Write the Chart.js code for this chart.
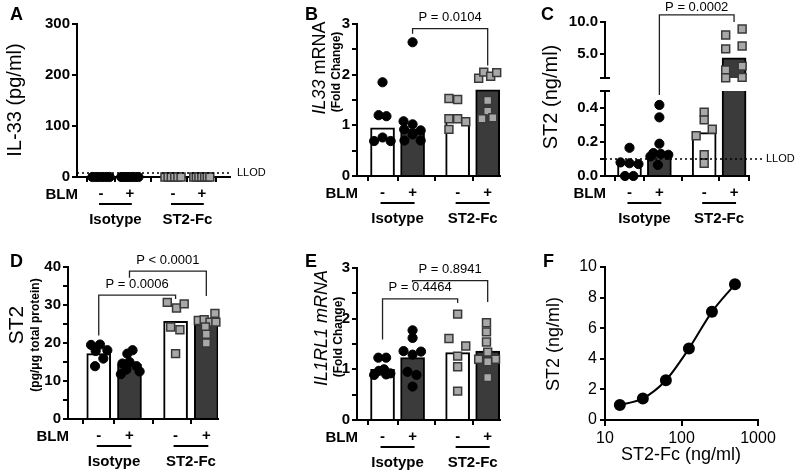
<!DOCTYPE html>
<html>
<head>
<meta charset="utf-8">
<script src="https://cdn.jsdelivr.net/npm/chart.js@4.4.1/dist/chart.umd.min.js"></script>
<style>
  body { margin: 0; background: #fff; width: 796px; height: 474px; position: relative; overflow: hidden; }
  canvas { position: absolute; }
</style>
</head>
<body>
<canvas id="cA" width="270" height="237" style="left:0;top:0"></canvas>
<canvas id="cB" width="264" height="237" style="left:262px;top:0"></canvas>
<canvas id="cCup" width="270" height="237" style="left:526px;top:0"></canvas>
<canvas id="cClo" width="270" height="237" style="left:526px;top:0"></canvas>
<canvas id="cD" width="262" height="237" style="left:0;top:237px"></canvas>
<canvas id="cE" width="264" height="237" style="left:262px;top:237px"></canvas>
<canvas id="cF" width="270" height="237" style="left:526px;top:237px"></canvas>
<script>
// groups on the x axis: Isotype -/+ , ST2-Fc -/+
const groupPos = [1, 2, 3.5, 4.5];
const blmLabels = ['-', '+', '-', '+'];
const treatLabels = ['Isotype', 'ST2-Fc'];

// A - IL-33 protein, everything under detection
const aBars = [0, 0, 0, 0];
const aIsoMinus = [0, 0, 0, 0, 0, 0];
const aIsoMinusDx = [-0.3, -0.18, -0.06, 0.06, 0.18, 0.3];
const aIsoPlus = [0, 0, 0, 0, 0, 0, 0];
const aIsoPlusDx = [-0.3, -0.2, -0.1, 0, 0.1, 0.2, 0.3];
const aSt2Minus = [0, 0, 0, 0, 0, 0];
const aSt2MinusDx = [-0.28, -0.17, -0.06, 0.06, 0.17, 0.28];
const aSt2Plus = [0, 0, 0, 0, 0, 0, 0];
const aSt2PlusDx = [-0.28, -0.19, -0.1, 0, 0.1, 0.19, 0.28];
const aLLOD = 8;
const aTicks = [0, 100, 200, 300];
const aTickLabels = ['0', '100', '200', '300'];

// B - IL33 mRNA
const bBars = [0.95, 0.93, 1.13, 1.70];
const bIsoMinus = [1.85, 1.2, 1.18, 0.69, 0.76, 0.69];
const bIsoMinusDx = [0, -0.13, 0.13, -0.28, 0, 0.27];
const bIsoPlus = [2.64, 1.08, 1.02, 0.92, 0.9, 0.82, 0.7, 0.7];
const bIsoPlusDx = [0, -0.3, 0, -0.28, 0.27, 0, -0.27, 0.27];
const bSt2Minus = [1.53, 1.51, 1.13, 1.13, 1.07, 0.92];
const bSt2MinusDx = [-0.29, 0, -0.29, 0, 0.27, -0.29];
const bSt2Plus = [1.93, 2.05, 1.97, 2.04, 1.49, 1.28, 1.13, 1.15];
const bSt2PlusDx = [-0.3, -0.13, 0.1, 0.3, 0, 0, -0.19, 0.17];
const bTicks = [0, 0.5, 1, 1.5, 2, 2.5, 3];
const bTickLabels = ['0', '', '1', '', '2', '', '3'];

// C - soluble ST2 (broken axis)
const cBars = [0.08, 0.127, 0.255, 4.42];
const cIsoMinus = [0.166, 0.08, 0.075, 0.07, 0.0, 0.0];
const cIsoMinusDx = [0, -0.3, 0, 0.3, -0.15, 0.13];
const cIsoPlus = [0.418, 0.345, 0.19, 0.135, 0.13, 0.125, 0.115, 0.065];
const cIsoPlusDx = [0, 0, 0, -0.2, 0.05, 0.3, -0.3, -0.05];
const cSt2Minus = [0.375, 0.33, 0.275, 0.237, 0.125, 0.075];
const cSt2MinusDx = [0, 0, 0.27, -0.27, 0, 0];
const cSt2Plus = [7.97, 8.9, 5.8, 6.25, 2.5, 3.1, 1.3, 1.35];
const cSt2PlusDx = [-0.28, 0.27, -0.28, 0.27, -0.28, 0.27, -0.28, 0.27];
const cLLOD = 0.1;
const cUpTicks = [1.25, 5, 10];
const cUpTickLabels = ['', '5.0', '10.0'];
const cLoTicks = [0, 0.1, 0.2, 0.3, 0.4, 0.5];
const cLoTickLabels = ['0.0', '', '0.2', '', '0.4', ''];

// D - ST2 per total protein
const dBars = [17.2, 14.4, 25.7, 25.1];
const dIsoMinus = [19.5, 19.6, 18.1, 17.9, 15.9, 13.9];
const dIsoMinusDx = [-0.25, 0.04, 0.28, -0.1, 0.15, -0.12];
const dIsoPlus = [18.1, 17.2, 15.0, 14.6, 13.9, 13.0, 12.5, 11.8];
const dIsoPlusDx = [0.1, -0.07, 0, -0.23, 0.23, -0.1, 0.33, -0.28];
const dSt2Minus = [30.7, 29.2, 30.3, 24.2, 23.5, 17.2];
const dSt2MinusDx = [-0.27, 0.03, 0.28, -0.16, 0.14, 0];
const dSt2Plus = [27.8, 25.9, 26.1, 25.5, 25.5, 24.2, 22.3, 20.0];
const dSt2PlusDx = [0.28, -0.26, -0.07, 0.12, 0.31, -0.03, 0, 0];
const dTicks = [0, 5, 10, 15, 20, 25, 30, 35, 40];
const dTickLabels = ['0', '', '10', '', '20', '', '30', '', '40'];

// E - IL1RL1 mRNA
const eBars = [1.0, 1.23, 1.33, 1.36];
const eIsoMinus = [1.23, 1.23, 1.0, 0.97, 0.92, 0.9, 0.89];
const eIsoMinusDx = [-0.14, 0.12, 0.05, -0.12, 0.26, 0.12, -0.28];
const eIsoPlus = [1.77, 1.62, 1.36, 1.35, 1.29, 0.95, 0.89, 0.66];
const eIsoPlusDx = [0, 0, -0.3, 0.28, 0, -0.17, 0.13, 0];
const eSt2Minus = [2.09, 1.61, 1.46, 1.26, 1.05, 0.57];
const eSt2MinusDx = [0, -0.29, 0.27, 0, 0, 0];
const eSt2Plus = [1.92, 1.74, 1.54, 1.34, 1.2, 1.2, 1.15, 0.84];
const eSt2PlusDx = [-0.04, -0.04, -0.04, 0, -0.3, 0.26, 0, 0];
const eTicks = bTicks;
const eTickLabels = bTickLabels;

// F - ST2 recovered vs ST2-Fc spiked
const fDose = [15.625, 31.25, 62.5, 125, 250, 500];
const fSt2 = [0.98, 1.41, 2.6, 4.67, 7.07, 8.87];
const fErr = [0, 0, 0, 0, 0.25, 0];
const fXTicks = [10, 100, 1000];
const fYTicks = [0, 2, 4, 6, 8, 10];

const FAM = '"Liberation Sans", Arial, sans-serif';
const DARK = '#3b3b3b';
const GREY = '#a8a8a8';
const tickFont = { family: FAM, size: 15, weight: 'bold' };
Chart.defaults.font.family = FAM;
Chart.defaults.color = '#000';

function barSet(vals) {
  return {
    type: 'bar', order: 2,
    data: vals.map((v, i) => ({ x: groupPos[i], y: v })),
    backgroundColor: ['#fff', DARK, '#fff', DARK],
    borderColor: '#000', borderWidth: 2, borderSkipped: 'start',
    barThickness: 24, clip: 0
  };
}

function dots(vals, dx, g, clip) {
  const sq = g >= 2;
  return {
    type: 'scatter', order: 1,
    data: vals.map((v, k) => ({ x: groupPos[g] + dx[k], y: v })),
    pointStyle: sq ? 'rect' : 'circle',
    pointRadius: sq ? 5.6 : 4.6,
    pointBackgroundColor: sq ? GREY : '#000',
    pointBorderColor: sq ? '#383838' : '#000',
    pointBorderWidth: sq ? 1.5 : 1,
    clip: clip === undefined ? false : clip
  };
}

function yScale(o) {
  return {
    type: 'linear', min: o.yMin, max: o.yMax,
    afterBuildTicks: s => { s.ticks = o.yTicks.map(v => ({ value: v })); },
    ticks: { callback: (v, i) => o.yLabels[i], font: o.yFont || tickFont, color: '#000', padding: 2, autoSkip: false },
    grid: { drawOnChartArea: false, tickLength: 5, color: '#000', lineWidth: 2 },
    border: { color: '#000', width: 2 },
    afterFit: s => { s.width = o.area.l; }
  };
}

function xScale(o) {
  return {
    type: 'linear', min: o.xMin, max: o.xMax, offset: false,
    display: o.hideX ? false : true,
    afterBuildTicks: s => { s.ticks = groupPos.map(v => ({ value: v })); },
    ticks: { callback: (v, i) => blmLabels[i], font: tickFont, color: '#000', padding: 3, autoSkip: false, maxRotation: 0 },
    grid: { drawOnChartArea: false, tickLength: 5, color: '#000', lineWidth: 2 },
    border: { color: '#000', width: 2 },
    afterFit: s => { s.height = o.H - o.area.b; }
  };
}

function panel(id, o) {
  return new Chart(document.getElementById(id), {
    type: 'bar',
    data: { datasets: o.sets },
    options: {
      responsive: false, animation: false, devicePixelRatio: 1,
      layout: { padding: { left: 0, top: o.area.t, right: o.W - o.area.r, bottom: 0 } },
      plugins: { legend: { display: false }, tooltip: { enabled: false } },
      scales: { x: xScale(o), y: yScale(o) }
    },
    plugins: [{ id: 'decor', afterDraw: c => { if (o.draw) o.draw(c, c.ctx); } }]
  });
}

// ---- drawing helpers ----
function txt(ctx, s, x, y, font, align) {
  ctx.save();
  ctx.font = font; ctx.fillStyle = '#000';
  ctx.textAlign = align || 'center'; ctx.textBaseline = 'middle';
  ctx.fillText(s, x, y);
  ctx.restore();
}

function vtext(ctx, parts, cx, cy) {
  ctx.save();
  ctx.translate(cx, cy); ctx.rotate(-Math.PI / 2);
  ctx.fillStyle = '#000'; ctx.textBaseline = 'middle'; ctx.textAlign = 'left';
  let w = 0;
  parts.forEach(p => { ctx.font = p.f; w += ctx.measureText(p.t).width; });
  let xx = -w / 2;
  parts.forEach(p => { ctx.font = p.f; ctx.fillText(p.t, xx, 0); xx += ctx.measureText(p.t).width; });
  ctx.restore();
}

function groupsRow(c, ctx) {
  const a = c.chartArea, x = c.scales.x, yb = a.bottom;
  ctx.save();
  txt(ctx, 'BLM', a.left + 1, yb + 18, 'bold 15px ' + FAM, 'right');
  ctx.strokeStyle = '#000'; ctx.lineWidth = 2;
  for (let g = 0; g < 2; g++) {
    const x1 = x.getPixelForValue(groupPos[2 * g]) - 2;
    const x2 = x.getPixelForValue(groupPos[2 * g + 1]) + 2;
    ctx.beginPath(); ctx.moveTo(x1, yb + 27); ctx.lineTo(x2, yb + 27); ctx.stroke();
    txt(ctx, treatLabels[g], (x1 + x2) / 2, yb + 43, 'bold 15px ' + FAM);
  }
  ctx.restore();
}

function bracket(c, ctx, g1, g2, top, end1, end2, label) {
  const x = c.scales.x, y = c.scales.y;
  const p1 = x.getPixelForValue(groupPos[g1]), p2 = x.getPixelForValue(groupPos[g2]);
  const pt = y.getPixelForValue(top);
  ctx.save();
  ctx.strokeStyle = '#222'; ctx.lineWidth = 1.3;
  ctx.beginPath();
  ctx.moveTo(p1, y.getPixelForValue(end1)); ctx.lineTo(p1, pt);
  ctx.lineTo(p2, pt); ctx.lineTo(p2, y.getPixelForValue(end2));
  ctx.stroke();
  ctx.restore();
  txt(ctx, label, (p1 + p2) / 2, pt - 11, '13px ' + FAM);
}

function llod(c, ctx, val, xEnd, xText) {
  const a = c.chartArea, py = c.scales.y.getPixelForValue(val);
  ctx.save();
  ctx.strokeStyle = '#000'; ctx.lineWidth = 1.5; ctx.setLineDash([2, 3]);
  ctx.beginPath(); ctx.moveTo(a.left, py); ctx.lineTo(xEnd, py); ctx.stroke();
  ctx.restore();
  txt(ctx, 'LLOD', xText, py, '11px ' + FAM, 'left');
}

// ---- A ----
panel('cA', {
  W: 270, H: 237, area: { l: 77, t: 24, r: 230, b: 177 },
  xMin: 0.165, xMax: 5.48, yMin: 0, yMax: 300, yTicks: aTicks, yLabels: aTickLabels,
  sets: [barSet(aBars), dots(aIsoMinus, aIsoMinusDx, 0), dots(aIsoPlus, aIsoPlusDx, 1),
         dots(aSt2Minus, aSt2MinusDx, 2), dots(aSt2Plus, aSt2PlusDx, 3)],
  draw: (c, ctx) => {
    llod(c, ctx, aLLOD, 232, 237);
    groupsRow(c, ctx);
    vtext(ctx, [{ t: 'IL-33 (pg/ml)', f: '20px ' + FAM }], 15, 100);
    txt(ctx, 'A', 10, 15, 'bold 18px ' + FAM, 'left');
  }
});

// ---- B ----
panel('cB', {
  W: 264, H: 237, area: { l: 95, t: 24, r: 238, b: 176 },
  xMin: 0.15, xMax: 4.91, yMin: 0, yMax: 3, yTicks: bTicks, yLabels: bTickLabels,
  sets: [barSet(bBars), dots(bIsoMinus, bIsoMinusDx, 0), dots(bIsoPlus, bIsoPlusDx, 1),
         dots(bSt2Minus, bSt2MinusDx, 2), dots(bSt2Plus, bSt2PlusDx, 3)],
  draw: (c, ctx) => {
    bracket(c, ctx, 1, 3, 2.91, 2.81, 2.18, 'P = 0.0104');
    groupsRow(c, ctx);
    vtext(ctx, [{ t: 'IL33', f: 'italic 18px ' + FAM }, { t: ' mRNA', f: '18px ' + FAM }], 58, 68);
    vtext(ctx, [{ t: '(Fold Change)', f: 'bold 12px ' + FAM }], 75, 72);
    txt(ctx, 'B', 43, 15, 'bold 18px ' + FAM, 'left');
  }
});

// ---- C (upper segment, then lower segment) ----
const cUpper = panel('cCup', {
  W: 270, H: 237, area: { l: 79, t: 22, r: 223, b: 78 }, hideX: true,
  xMin: 0.18, xMax: 5.0, yMin: 1.25, yMax: 10, yTicks: cUpTicks, yLabels: cUpTickLabels,
  sets: [barSet(cBars), dots(cSt2Plus, cSt2PlusDx, 3, { left: 10, right: 10, top: 10, bottom: 6 })]
});

panel('cClo', {
  W: 270, H: 237, area: { l: 79, t: 91, r: 223, b: 176 },
  xMin: 0.18, xMax: 5.0, yMin: 0, yMax: 0.5, yTicks: cLoTicks, yLabels: cLoTickLabels,
  sets: [barSet(cBars), dots(cIsoMinus, cIsoMinusDx, 0), dots(cIsoPlus, cIsoPlusDx, 1),
         dots(cSt2Minus, cSt2MinusDx, 2)],
  draw: (c, ctx) => {
    llod(c, ctx, cLLOD, 236, 240);
    groupsRow(c, ctx);
    // break marks at the two axis ends
    const ax = c.chartArea.left;
    ctx.save(); ctx.strokeStyle = '#000'; ctx.lineWidth = 2;
    [cUpper.chartArea.bottom, c.chartArea.top].forEach(py => {
      ctx.beginPath(); ctx.moveTo(ax - 5, py); ctx.lineTo(ax + 5, py); ctx.stroke();
    });
    ctx.restore();
    // bracket spans both segments
    const x = c.scales.x, yu = cUpper.scales.y;
    const p1 = x.getPixelForValue(groupPos[1]), p2 = x.getPixelForValue(groupPos[3]);
    const pt = yu.getPixelForValue(11.1);
    ctx.save(); ctx.strokeStyle = '#222'; ctx.lineWidth = 1.3;
    ctx.beginPath();
    ctx.moveTo(p1, c.scales.y.getPixelForValue(0.476)); ctx.lineTo(p1, pt);
    ctx.lineTo(p2, pt); ctx.lineTo(p2, yu.getPixelForValue(10));
    ctx.stroke(); ctx.restore();
    txt(ctx, 'P = 0.0002', (p1 + p2) / 2, pt - 8, '13px ' + FAM);
    vtext(ctx, [{ t: 'ST2 (ng/ml)', f: '20px ' + FAM }], 25, 97);
    txt(ctx, 'C', 15, 15, 'bold 18px ' + FAM, 'left');
  }
});

// ---- D ----
panel('cD', {
  W: 262, H: 237, area: { l: 68, t: 30, r: 218, b: 182 },
  xMin: 0, xMax: 4.88, yMin: 0, yMax: 40, yTicks: dTicks, yLabels: dTickLabels,
  sets: [barSet(dBars), dots(dIsoMinus, dIsoMinusDx, 0), dots(dIsoPlus, dIsoPlusDx, 1),
         dots(dSt2Minus, dSt2MinusDx, 2), dots(dSt2Plus, dSt2PlusDx, 3)],
  draw: (c, ctx) => {
    bracket(c, ctx, 0, 2, 32.6, 22.0, 31.6, 'P = 0.0006');
    bracket(c, ctx, 1, 3, 38.9, 37.2, 32.4, 'P < 0.0001');
    groupsRow(c, ctx);
    vtext(ctx, [{ t: 'ST2', f: '21px ' + FAM }], 17, 88);
    vtext(ctx, [{ t: '(pg/\u03bcg total protein)', f: 'bold 12px ' + FAM }], 36, 98);
    txt(ctx, 'D', 10, 25, 'bold 18px ' + FAM, 'left');
  }
});

// ---- E ----
panel('cE', {
  W: 264, H: 237, area: { l: 95, t: 31, r: 238, b: 183 },
  xMin: 0.15, xMax: 4.91, yMin: 0, yMax: 3, yTicks: eTicks, yLabels: eTickLabels,
  sets: [barSet(eBars), dots(eIsoMinus, eIsoMinusDx, 0), dots(eIsoPlus, eIsoPlusDx, 1),
         dots(eSt2Minus, eSt2MinusDx, 2), dots(eSt2Plus, eSt2PlusDx, 3)],
  draw: (c, ctx) => {
    bracket(c, ctx, 0, 2, 2.39, 1.59, 2.31, 'P = 0.4464');
    bracket(c, ctx, 1, 3, 2.75, 2.72, 2.33, 'P = 0.8941');
    groupsRow(c, ctx);
    vtext(ctx, [{ t: 'IL1RL1 mRNA', f: 'italic 18px ' + FAM }], 60, 91);
    vtext(ctx, [{ t: '(Fold Change)', f: 'bold 12px ' + FAM }], 77, 100);
    txt(ctx, 'E', 43, 25, 'bold 18px ' + FAM, 'left');
  }
});

// ---- F ----
const fFont = { family: FAM, size: 16 };
new Chart(document.getElementById('cF'), {
  type: 'line',
  data: {
    datasets: [{
      data: fDose.map((d, i) => ({ x: d, y: fSt2[i] })),
      borderColor: '#000', borderWidth: 2, tension: 0.4, cubicInterpolationMode: 'monotone',
      pointRadius: 5, pointBackgroundColor: '#000', pointBorderColor: '#000', clip: false
    }]
  },
  options: {
    responsive: false, animation: false, devicePixelRatio: 1,
    layout: { padding: { left: 0, top: 30, right: 38, bottom: 0 } },
    plugins: { legend: { display: false }, tooltip: { enabled: false } },
    scales: {
      x: {
        type: 'logarithmic', min: 10, max: 1000,
        afterBuildTicks: s => { s.ticks = fXTicks.map(v => ({ value: v })); },
        ticks: { callback: v => String(v), font: fFont, color: '#000', padding: 3, autoSkip: false, maxRotation: 0 },
        grid: { drawOnChartArea: false, tickLength: 6, color: '#000', lineWidth: 2 },
        border: { color: '#000', width: 2 },
        afterFit: s => { s.height = 237 - 183; }
      },
      y: {
        type: 'linear', min: 0, max: 10,
        afterBuildTicks: s => { s.ticks = fYTicks.map(v => ({ value: v })); },
        ticks: { callback: v => String(v), font: fFont, color: '#000', padding: 3, autoSkip: false },
        grid: { drawOnChartArea: false, tickLength: 5, color: '#000', lineWidth: 2 },
        border: { color: '#000', width: 2 },
        afterFit: s => { s.width = 79; }
      }
    }
  },
  plugins: [{
    id: 'decor',
    afterDraw: c => {
      const ctx = c.ctx, x = c.scales.x, y = c.scales.y;
      ctx.save(); ctx.strokeStyle = '#000'; ctx.lineWidth = 1.5;
      fErr.forEach((e, i) => {
        if (!e) return;
        const px = x.getPixelForValue(fDose[i]);
        const lo = y.getPixelForValue(fSt2[i] - e), hi = y.getPixelForValue(fSt2[i] + e);
        ctx.beginPath();
        ctx.moveTo(px, lo); ctx.lineTo(px, hi);
        ctx.moveTo(px - 4, lo); ctx.lineTo(px + 4, lo);
        ctx.moveTo(px - 4, hi); ctx.lineTo(px + 4, hi);
        ctx.stroke();
      });
      ctx.restore();
      vtext(ctx, [{ t: 'ST2 (ng/ml)', f: '18px ' + FAM }], 28, 107);
      txt(ctx, 'ST2-Fc (ng/ml)', 155, 218, '18px ' + FAM);
      txt(ctx, 'F', 17, 25, 'bold 18px ' + FAM, 'left');
    }
  }]
});
</script>
</body>
</html>
